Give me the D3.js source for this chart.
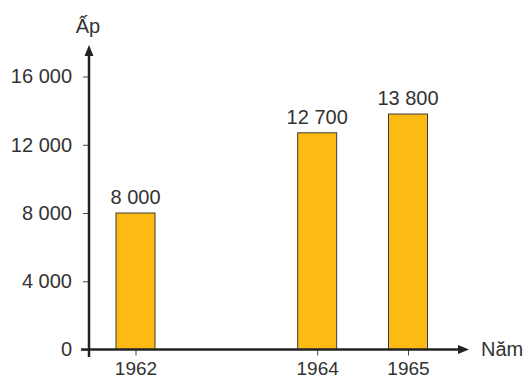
<!DOCTYPE html>
<html>
<head>
<meta charset="utf-8">
<script src="https://cdn.jsdelivr.net/npm/d3@7"></script>
<style>
  html, body { margin: 0; padding: 0; background: #fff; }
  svg { display: block; }
  text { font-family: "Liberation Sans", Arial, sans-serif; fill: #333; }
</style>
</head>
<body>
<svg id="chart" width="523" height="380"></svg>
<script>
const years = [1962, 1964, 1965];
const values = [8000, 12700, 13800];
const yTicks = [0, 4000, 8000, 12000, 16000];
const yTitle = "Ấp";
const xTitle = "Năm";

const svg = d3.select("#chart");
const fmt = d3.formatLocale({ decimal: ",", thousands: " ", grouping: [3], currency: ["", ""] }).format(",d");

const x = d3.scaleLinear().domain([1962, 1965]).range([135.5, 408]);
const y = d3.scaleLinear().domain([0, 16000]).range([349.5, 76.5]);
const barW = 39;
const axisColor = "#222";

// bars
svg.append("g").selectAll("rect").data(years).join("rect")
  .attr("x", (d) => x(d) - barW / 2)
  .attr("y", (d, i) => y(values[i]))
  .attr("width", barW)
  .attr("height", (d, i) => y(0) - y(values[i]))
  .attr("fill", "#FDBA12")
  .attr("stroke", "#3a3a3a")
  .attr("stroke-width", 1);

// value labels
svg.append("g").selectAll("text").data(years).join("text")
  .attr("x", (d) => x(d))
  .attr("y", (d, i) => y(values[i]) - 9)
  .attr("text-anchor", "middle")
  .style("font-size", "20px")
  .text((d, i) => fmt(values[i]));

// y axis ticks/labels
const yAxis = d3.axisLeft(y).tickValues(yTicks).tickSize(6).tickPadding(11).tickFormat(fmt);
const gy = svg.append("g").attr("transform", "translate(89,0)").call(yAxis);
gy.select(".domain").remove();
gy.selectAll("line").attr("stroke", "#444").attr("stroke-width", 1);
gy.selectAll("text").style("font-size", "20px").attr("fill", "#333")
  .style("font-family", "'Liberation Sans', Arial, sans-serif");

// x axis ticks/labels
const xAxis = d3.axisBottom(x).tickValues(years).tickSize(6).tickPadding(6).tickFormat(d3.format("d"));
const gx = svg.append("g").attr("transform", "translate(0,349.5)").call(xAxis);
gx.select(".domain").remove();
gx.selectAll("line").attr("stroke", "#444").attr("stroke-width", 1);
gx.selectAll("text").style("font-size", "19px").attr("fill", "#333")
  .style("font-family", "'Liberation Sans', Arial, sans-serif");

// axis lines with arrows
svg.append("line").attr("x1", 89).attr("x2", 89).attr("y1", 357).attr("y2", 54)
  .attr("stroke", axisColor).attr("stroke-width", 2.5);
svg.append("path").attr("d", "M89,45 L84.5,56 L93.5,56 Z").attr("fill", axisColor);

svg.append("line").attr("x1", 81).attr("x2", 460).attr("y1", 349.5).attr("y2", 349.5)
  .attr("stroke", axisColor).attr("stroke-width", 2.5);
svg.append("path").attr("d", "M469,349.5 L458,345 L458,354 Z").attr("fill", axisColor);

// axis titles
svg.append("text").attr("x", 88).attr("y", 33).attr("text-anchor", "middle")
  .style("font-size", "20px").text(yTitle);
svg.append("text").attr("x", 481).attr("y", 356).attr("text-anchor", "start")
  .style("font-size", "20px").text(xTitle);
</script>
</body>
</html>
